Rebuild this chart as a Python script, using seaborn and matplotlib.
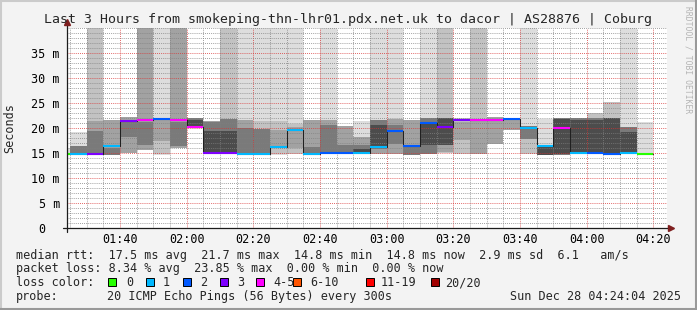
import numpy as np
import pandas as pd
import matplotlib
matplotlib.use("Agg")
import matplotlib.pyplot as plt
from matplotlib.patches import Rectangle
from matplotlib.lines import Line2D
from matplotlib.ticker import MultipleLocator, FixedLocator
import seaborn as sns

N = float("nan")

# ---------------- data ----------------
slot_end = ["01:25", "01:30", "01:35", "01:40", "01:45", "01:50", "01:55",
            "02:00", "02:05", "02:10", "02:15", "02:20", "02:25", "02:30", "02:35",
            "02:40", "02:45", "02:50", "02:55", "03:00", "03:05", "03:10", "03:15",
            "03:20", "03:25", "03:30", "03:35", "03:40", "03:45", "03:50", "03:55",
            "04:00", "04:05", "04:10", "04:15", "04:20"]

median_ms = [14.9, 14.9, 14.9, 16.5, 21.5, 21.7, 21.9, 21.7, 20.3, 15.1,
             15.1, 14.9, 14.9, 16.3, 19.6, 14.8, 15.1, 15.0, 15.1, 16.3,
             19.5, 16.4, 21.1, 20.3, 21.7, 21.7, 21.7, 21.8, 20.1, 16.5,
             20.1, 15.1, 15.1, 14.9, 15.1, 14.8]

lost_pings = [0, 1, 3, 1, 3, 4, 2, 4, 4, 3,
              3, 1, 1, 1, 1, 1, 2, 2, 1, 1,
              2, 2, 2, 3, 3, 4, 4, 2, 1, 1,
              4, 1, 2, 2, 1, 0]

# smoke bands (outermost/lightest to innermost/darkest), ms
l1_lo = [14.7, 14.6, N, N, N, N, 14.7, N, N, N,
         N, 14.8, 14.8, 14.7, 14.9, N, 14.8, N, 14.9, 14.8,
         14.8, N, 14.8, N, N, N, N, N, 14.8, 14.7,
         N, N, N, N, 14.8, 14.7]
l1_hi = [16.0, 19.3, N, N, N, N, 42, N, N, N,
         N, 42, 42, 42, 42, N, 42, N, 21.5, 42,
         42, N, 42, N, N, N, N, N, 42, 21.9,
         N, N, N, N, 42, 21.1]
l2_lo = [N, N, 14.6, N, N, N, 14.9, N, N, N,
         14.8, N, 14.8, 14.8, 14.9, N, N, N, N, N,
         N, N, N, 15.0, 14.9, 14.9, N, N, 14.8, N,
         N, N, 14.9, 14.7, N, N]
l2_hi = [N, N, 42, N, N, N, 21.7, N, N, N,
         42, N, 21.3, 21.3, 20.9, N, N, N, N, N,
         N, N, N, 42, 22.0, 42, N, N, 20.3, N,
         N, N, 23.1, 25.2, N, N]
l3_lo = [N, N, 14.7, 14.7, 15.1, 15.6, 17.4, 16.0, N, 14.9,
         N, 14.8, N, 16.4, 16.1, 14.7, 14.8, 14.8, 15.1, 14.8,
         14.8, 14.7, N, 15.3, 17.6, 14.9, 16.8, 19.6, N, N,
         N, N, N, N, N, N]
l3_hi = [N, N, 21.4, 21.6, 22.2, 42, 21.6, 42, N, 21.4,
         N, 21.7, N, 19.6, 20.3, 21.6, 21.7, 20.4, 18.3, 21.6,
         21.9, 21.6, N, 22.0, 21.3, 21.3, 22.2, 22.1, N, N,
         N, N, N, N, N, N]
l4_lo = [N, 14.7, 14.8, 14.7, 18.3, 16.6, N, 16.5, 20.1, 14.9,
         14.9, 14.9, 14.8, N, N, 14.7, 14.9, 14.8, 15.1, 15.8,
         16.9, 14.7, 14.8, N, N, N, N, N, 17.9, N,
         14.7, 14.9, 14.9, N, 14.8, N]
l4_hi = [N, 16.5, 19.4, 16.1, 21.4, 21.3, N, 21.3, 22.0, 21.2,
         21.7, 20.0, 19.9, N, N, 16.3, 20.6, 16.6, 16.6, 21.6,
         20.6, 16.2, 22.1, N, N, N, N, N, 20.3, N,
         22.0, 22.0, 22.0, N, 20.3, N]
l5_lo = [N, N, N, N, N, N, N, N, 20.5, 15.0,
         15.0, N, N, N, N, N, N, N, 15.2, 16.4,
         N, N, 16.6, 16.6, N, N, N, N, N, 14.7,
         14.8, 14.9, 15.0, 14.8, 15.0, N]
l5_hi = [N, N, N, N, N, N, N, N, 21.7, 19.4,
         19.4, N, N, N, N, N, N, N, 15.9, 20.6,
         N, N, 21.0, 22.0, N, N, N, N, N, 16.5,
         21.9, 21.6, 21.6, 22.0, 19.3, N]

loss_labels = ["0", "1", "2", "3", "4-5", "6-10", "11-19", "20/20"]
x_tick_labels = ["01:40", "02:00", "02:20", "02:40", "03:00", "03:20", "03:40", "04:00", "04:20"]
y_tick_labels = ["0  ", "5 m", "10 m", "15 m", "20 m", "25 m", "30 m", "35 m"]
y_tick_values = [0, 5, 10, 15, 20, 25, 30, 35]

title = "Last 3 Hours from smokeping-thn-lhr01.pdx.net.uk to dacor | AS28876 | Coburg"
stat_rows = [
    "median rtt:  17.5 ms avg  21.7 ms max  14.8 ms min  14.8 ms now  2.9 ms sd  6.1   am/s",
    "packet loss: 8.34 % avg  23.85 % max  0.00 % min  0.00 % now",
]
probe_text = "20 ICMP Echo Pings (56 Bytes) every 300s"
stamp_text = "Sun Dec 28 04:24:04 2025"
graph_start = "01:24:04"
graph_end = "04:24:04"

# ---------------- styles ----------------
loss_colors = ["#26ff00", "#00b8ff", "#0059ff", "#7e00ff", "#ff00ff", "#ff5500", "#ff0000", "#a10000"]
smoke_shades = ["#dddddd", "#c2c2c2", "#a2a2a2", "#7a7a7a", "#4c4c4c"]


def hm(s):
    p = [int(v) for v in s.split(":")]
    return p[0] * 60 + p[1] + (p[2] / 60 if len(p) > 2 else 0)


def bucket(n):
    if n <= 3:
        return n
    if n <= 5:
        return 4
    if n <= 10:
        return 5
    if n <= 19:
        return 6
    return 7


sns.set_theme(style="white")
plt.rcParams["font.family"] = ["DejaVu Sans Mono", "DejaVu Sans"]

W, H = 697, 310
FS = 8.5
fig = plt.figure(figsize=(W / 100, H / 100), dpi=100, facecolor="#f3f3f3")
ax = fig.add_axes([67 / W, (H - 228) / H, 600 / W, 200 / H])
ax.set_facecolor("white")

x0, x1 = hm(graph_start), hm(graph_end)
ends = np.array([hm(s) for s in slot_end])
lefts = ends - 5.0

df = pd.DataFrame({"left": lefts, "end": ends, "median": median_ms, "lost": lost_pings})

# smoke
layers = [(l1_lo, l1_hi), (l2_lo, l2_hi), (l3_lo, l3_hi), (l4_lo, l4_hi), (l5_lo, l5_hi)]
for (lo, hi), shade in zip(layers, smoke_shades):
    lo = np.array(lo, float)
    hi = np.array(hi, float)
    m = ~np.isnan(lo)
    ax.bar(lefts[m], hi[m] - lo[m], bottom=lo[m], width=5.0, align="edge",
           color=shade, linewidth=0, zorder=1)

# black median step line
step = pd.DataFrame({"t": list(lefts) + [ends[-1]], "ms": median_ms + [median_ms[-1]]})
sns.lineplot(data=step, x="t", y="ms", drawstyle="steps-post", color="#202020",
             linewidth=0.75, ax=ax, zorder=3)

# coloured median segments
for _, r in df.iterrows():
    ax.hlines(r["median"], r["left"], r["end"], color=loss_colors[bucket(int(r["lost"]))],
              linewidth=1.5, zorder=4)

ax.set_xlim(x0, x1)
ax.set_ylim(0, 40)
ax.set_xlabel("")
ax.set_ylabel("")

# grid
ax.xaxis.set_major_locator(FixedLocator([hm(s) for s in x_tick_labels]))
ax.xaxis.set_minor_locator(MultipleLocator(5))
ax.yaxis.set_major_locator(FixedLocator(y_tick_values))
ax.yaxis.set_minor_locator(MultipleLocator(1))
ax.set_xticklabels(x_tick_labels)
ax.set_yticklabels(y_tick_labels)
ax.set_axisbelow(False)
ax.grid(which="minor", color=(0.5, 0.5, 0.5, 0.5), linestyle=(0, (1, 1.5)), linewidth=0.6)
ax.grid(which="major", color=(0.85, 0.2, 0.2, 0.4), linestyle=(0, (1, 1.5)), linewidth=0.6)
ax.tick_params(which="both", direction="inout", length=3, width=0.72)
ax.tick_params(which="minor", color=(0.55, 0.55, 0.55, 0.6))
ax.tick_params(which="major", color=(0.8, 0.2, 0.2, 0.6))
ax.tick_params(axis="x", which="major", pad=2.2, labelsize=FS, labelcolor="black")
ax.tick_params(axis="y", which="major", pad=3.6, labelsize=FS, labelcolor="black")
for s in ax.spines.values():
    s.set_visible(False)

# axes with arrows
ax.plot([x0, x0], [-0.8, 41.0], color="#1c1c1c", linewidth=0.9, clip_on=False, zorder=5)
ax.plot([x0 - 1.2, x1 + 1.2], [0, 0], color="#1c1c1c", linewidth=0.9, clip_on=False, zorder=5)
ax.plot([x0], [41.3], marker="^", markersize=5, color="#7f1f1f", clip_on=False, zorder=6)
ax.plot([x1 + 1.3], [0], marker=">", markersize=5, color="#7f1f1f", clip_on=False, zorder=6)

# texts
fig.text(0.5, 1 - 19 / H, title, ha="center", va="center", fontsize=9.5)
fig.text(10 / W, 1 - 128 / H, "Seconds", rotation=90, ha="center", va="center", fontsize=FS)
fig.text(688 / W, 1 - 60 / H, "RRDTOOL / TOBI OETIKER", rotation=270, ha="center",
         va="center", fontsize=5.8, color="#b4b4b4")

row_base = [258.5, 272, 286, 300]
for txt, yb in zip(stat_rows, row_base[:2]):
    fig.text(16 / W, 1 - yb / H, txt, ha="left", va="baseline", fontsize=FS)
fig.text(16 / W, 1 - row_base[2] / H, "loss color:", ha="left", va="baseline", fontsize=FS)
fig.text(16 / W, 1 - row_base[3] / H, "probe:", ha="left", va="baseline", fontsize=FS)
fig.text(107 / W, 1 - row_base[3] / H, probe_text, ha="left", va="baseline", fontsize=FS)
fig.text(681 / W, 1 - row_base[3] / H, stamp_text, ha="right", va="baseline", fontsize=FS)

box_x = [108, 145.5, 182.5, 219.5, 256, 293, 365.5, 430.5]
lab_x = [126, 163, 200, 237, 273, 310, 381, 445]
for bx, lx, lab, col in zip(box_x, lab_x, loss_labels, loss_colors):
    fig.add_artist(Rectangle((bx / W, 1 - 286 / H), 8 / W, 8 / H, transform=fig.transFigure,
                             facecolor=col, edgecolor="black", linewidth=0.7))
    fig.text(lx / W, 1 - row_base[2] / H, lab, ha="left", va="baseline", fontsize=FS)

# 3D frame
def fline(xs, ys, c):
    fig.add_artist(Line2D([x / W for x in xs], [1 - y / H for y in ys], color=c,
                          linewidth=1.5, transform=fig.transFigure))

fline([0, W], [0.75, 0.75], "#cbcbcb")
fline([0.75, 0.75], [0, H], "#cbcbcb")
fline([0, W], [H - 0.75, H - 0.75], "#999999")
fline([W - 0.75, W - 0.75], [0, H], "#999999")

fig.savefig("out.png", dpi=100, facecolor=fig.get_facecolor())
